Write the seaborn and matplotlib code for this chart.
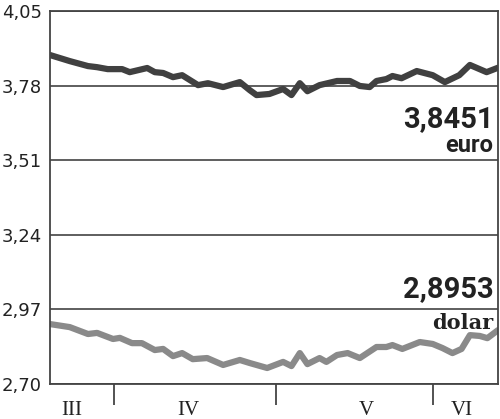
import pandas as pd
import numpy as np
import matplotlib.pyplot as plt
import seaborn as sns

# trading-day position (0 = start of chart) and rate
euro_day = [0, 2.6, 5.0, 6.2, 7.6, 9.5, 10.5, 12.8, 13.8, 14.9, 16.2, 17.4, 19.5, 20.8,
            22.8, 25.0, 26.3, 27.2, 28.9, 30.7, 31.8, 32.9, 33.9, 35.5, 37.8, 39.5,
            40.8, 42.1, 43.0, 44.3, 45.1, 46.3, 48.3, 50.4, 52.0, 53.9, 55.3, 57.5, 59]
euro_val = [3.891, 3.869, 3.851, 3.847, 3.840, 3.840, 3.829, 3.844, 3.829, 3.826, 3.811,
            3.818, 3.782, 3.789, 3.775, 3.793, 3.764, 3.746, 3.750, 3.768, 3.746, 3.789,
            3.760, 3.782, 3.797, 3.797, 3.779, 3.775, 3.797, 3.804, 3.815, 3.807, 3.833,
            3.818, 3.793, 3.818, 3.855, 3.829, 3.845]

dolar_day = [0, 2.6, 5.0, 6.2, 8.3, 9.2, 10.8, 12.1, 13.8, 14.9, 16.2, 17.4, 18.8, 20.7,
             22.8, 25.0, 26.3, 28.6, 30.7, 31.8, 32.9, 33.9, 35.5, 36.4, 37.8, 39.2,
             40.8, 43.0, 44.3, 45.1, 46.4, 48.7, 50.4, 51.7, 53.0, 54.2, 55.3, 56.6, 57.6, 59]
dolar_val = [2.917, 2.906, 2.881, 2.885, 2.863, 2.867, 2.848, 2.848, 2.823, 2.827, 2.801,
             2.812, 2.790, 2.794, 2.769, 2.787, 2.776, 2.758, 2.780, 2.765, 2.812, 2.772,
             2.794, 2.780, 2.805, 2.812, 2.794, 2.834, 2.834, 2.841, 2.827, 2.852, 2.845,
             2.830, 2.812, 2.827, 2.877, 2.874, 2.866, 2.895]

y_ticks = [2.70, 2.97, 3.24, 3.51, 3.78, 4.05]
y_labels = ["2,70", "2,97", "3,24", "3,51", "3,78", "4,05"]
month_bounds = [8.4, 29.7, 50.4]
month_mid = [2.8, 18.2, 41.7, 54.3]
month_names = ["III", "IV", "V", "VI"]

df = pd.concat([
    pd.DataFrame({"day": euro_day, "kurs": euro_val, "waluta": "euro"}),
    pd.DataFrame({"day": dolar_day, "kurs": dolar_val, "waluta": "dolar"}),
])

sns.set_style("white")
fig = plt.figure(figsize=(5, 4.19), dpi=100)
ax = fig.add_axes([0.1, 0.0835, 0.896, 0.890])

sns.lineplot(data=df, x="day", y="kurs", hue="waluta",
             palette={"euro": "#404040", "dolar": "#8a8a8a"},
             linewidth=4.5, legend=False, ax=ax,
             solid_capstyle="round", solid_joinstyle="round")

ax.set_xlim(0, 59)
ax.set_ylim(2.70, 4.05)
ax.set_xlabel("")
ax.set_ylabel("")

ax.set_yticks(y_ticks)
ax.set_yticklabels(y_labels, fontsize=13, color="#222222")
ax.yaxis.grid(True, color="#333333", linewidth=1.1)
ax.tick_params(axis="y", length=0, pad=6)

ax.set_xticks(month_bounds)
ax.set_xticklabels([])
ax.tick_params(axis="x", which="major", bottom=True, direction="out", length=15,
               width=1.3, color="#444444")
ax.set_xticks(month_mid, minor=True)
ax.set_xticklabels(month_names, minor=True, fontsize=15,
                   family="Liberation Serif", color="#222222")
ax.tick_params(axis="x", which="minor", bottom=True, length=0, pad=12)

for s in ax.spines.values():
    s.set_color("#444444")
    s.set_linewidth(1.3)

ax.text(58.4, 3.630, "3,8451", ha="right", va="baseline", fontsize=21,
        fontweight="bold", family="Roboto", color="#222222")
ax.text(58.4, 3.540, "euro", ha="right", va="baseline", fontsize=17,
        fontweight="bold", family="Roboto", color="#222222")
ax.text(58.4, 3.015, "2,8953", ha="right", va="baseline", fontsize=21,
        fontweight="bold", family="Roboto", color="#222222")
ax.text(58.4, 2.899, "dolar", ha="right", va="baseline", fontsize=15,
        fontweight="bold", family="DejaVu Serif", color="#222222")

fig.savefig("out.png", dpi=100)
